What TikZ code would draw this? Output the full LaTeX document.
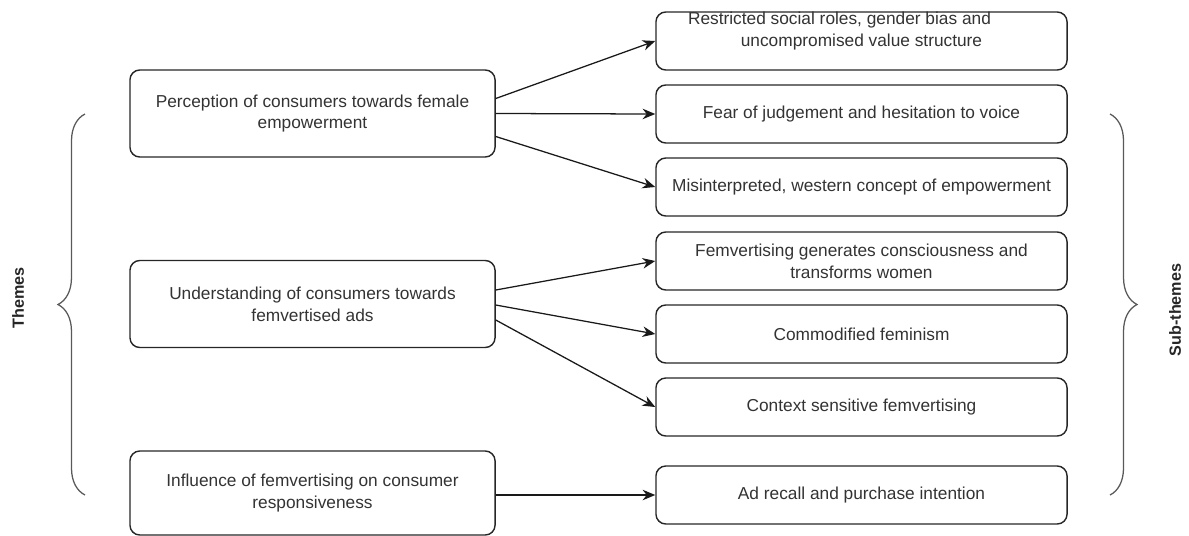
\documentclass[tikz,border=0pt]{standalone}
\usepackage{fontspec}
\setmainfont{Liberation Sans}
\usepackage{tikz}
\usetikzlibrary{calc}
\usetikzlibrary{arrows.meta}
\usetikzlibrary{decorations.pathreplacing}

\begin{document}
\begin{tikzpicture}[x=0.025cm,y=-0.025cm,
  theme/.style={draw=black!85,line width=1pt,rounded corners=7pt,minimum width=9.125cm,minimum height=2.175cm,align=center,text=black!80,font=\fontsize{12.3}{15.6}\selectfont},
  subtheme/.style={draw=black!85,line width=1pt,rounded corners=7pt,minimum width=10.275cm,minimum height=1.45cm,align=center,text=black!80,font=\fontsize{12.3}{15.6}\selectfont},
  link/.style={-{Stealth[length=9pt,width=7.5pt]},line width=0.9pt,black!90},
  curly/.style={decorate,decoration={brace,amplitude=0.675cm},line width=0.9pt,black!65},
  side/.style={rotate=90,text=black!85,font=\fontsize{11.5}{14}\selectfont\bfseries}]
  \useasboundingbox (0,0) rectangle (1189,535);
  % themes
  \node[theme] (t1) at (312.5,113.5) {Perception of consumers towards female\\empowerment};
  \node[theme] (t2) at (312.5,304) {Understanding of consumers towards\\femvertised ads};
  \node[theme,minimum height=2.1cm] (t3) at (312.5,493) {Influence of femvertising on consumer\\responsiveness};
  % sub-themes
  \node[subtheme] (s1) at (861.5,41) {};
  \node[align=center,text=black!80,font=\fontsize{12.3}{15.6}\selectfont] (s1txt) at (861.5,31) {Restricted social roles, gender bias and\hspace*{1.1cm}\\uncompromised value structure};
  \node[subtheme] (s2) at (861.5,114) {Fear of judgement and hesitation to voice};
  \node[subtheme] (s3) at (861.5,187) {Misinterpreted, western concept of empowerment};
  \node[subtheme] (s4) at (861.5,261) {Femvertising generates consciousness and\\transforms women};
  \node[subtheme] (s5) at (861.5,334) {Commodified feminism};
  \node[subtheme] (s6) at (861.5,407) {Context sensitive femvertising};
  \node[subtheme] (s7) at (861.5,495) {Ad recall and purchase intention};
  \draw[link] ($(t1.east)+(0,-15)$) -- (s1.west);
  \draw[link] (t1.east) -- (s2.west);
  \draw[link] ($(t1.east)+(0,23)$) -- (s3.west);
  \draw[link] ($(t2.east)+(0,-14)$) -- (s4.west);
  \draw[link] ($(t2.east)+(0,1)$) -- (s5.west);
  \draw[link] ($(t2.east)+(0,16)$) -- (s6.west);
  \draw[link] (t3.east |- s7.west) -- (s7.west);
  % braces
  \coordinate (lbtop) at (85,114);
  \coordinate (lbbot) at (85,495);
  \coordinate (rbtop) at (1110,114);
  \coordinate (rbbot) at (1110,495);
  \draw[curly] (lbbot) -- (lbtop);
  \draw[curly] (rbtop) -- (rbbot);
  \node[side] (themes) at (18,298) {Themes};
  \node[side] (subthemes) at (1175,310) {Sub-themes};
\end{tikzpicture}
\end{document}
